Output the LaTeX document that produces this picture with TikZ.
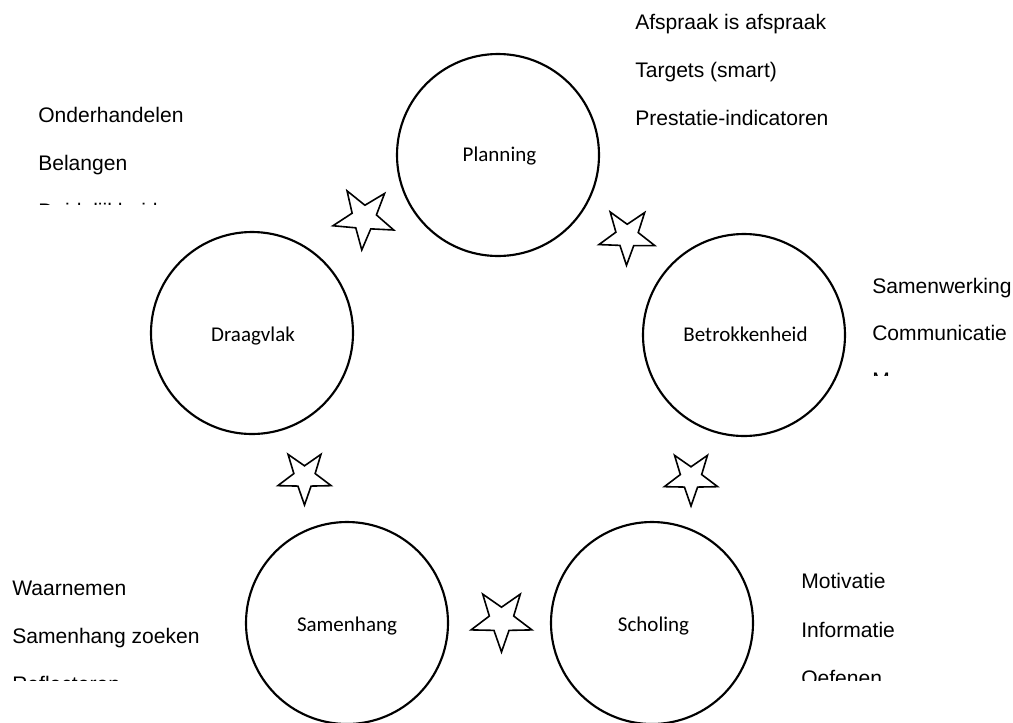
\documentclass[tikz,border=0pt]{standalone}
\usepackage{fontspec}
\setmainfont{Liberation Sans}
\newfontfamily\carlito{Carlito}
\usetikzlibrary{shapes.geometric}
\begin{document}
\begin{tikzpicture}[x=0.75pt,y=-0.75pt,
  circ/.style={draw, circle, line width=1.6pt, minimum size=151.5pt, inner sep=0pt},
  lab/.style={anchor=base, inner sep=0pt, font=\carlito\fontsize{15.75}{18}\selectfont},
  side/.style={anchor=base west, inner sep=0pt, font=\fontsize{15.8}{19}\selectfont},
  starnode/.style={draw, star, star points=5, star point ratio=2.5, inner sep=0pt, outer sep=0pt, line width=1.2pt, line join=miter},
]
\useasboundingbox (0,0) rectangle (1013,722);

% circles
\node[circ] (planning) at (498,155) {};
\node[circ] (draagvlak) at (252,333) {};
\node[circ] (betrokkenheid) at (744,335) {};
\node[circ] (samenhang) at (347,623) {};
\node[circ] (scholing) at (652,623) {};

% circle labels
\node[lab] (lplanning) at (499.5,161) {Planning};
\node[lab] (ldraagvlak) at (253,341) {Draagvlak};
\node[lab] (lbetrokkenheid) at (745.5,341) {Betrokkenheid};
\node[lab] (lsamenhang) at (347,631) {Samenhang};
\node[lab] (lscholing) at (653.5,631) {Scholing};

% stars
\node[starnode, minimum size=48pt, shape border rotate=176] (s1) at (364,218) {};
\node[starnode, minimum size=44pt, shape border rotate=179] (s2) at (627,236) {};
\node[starnode, minimum size=48pt, shape border rotate=180] (s3) at (501.5,620) {};
\node[starnode, minimum size=42pt, shape border rotate=180] (s4) at (304.5,477) {};
\node[starnode, minimum size=42pt, shape border rotate=180] (s5) at (691,478) {};

% Planning text block
\node[side] (p1) at (635,29.5) {Afspraak is afspraak};
\node[side] (p2) at (635,77.5) {Targets (smart)};
\node[side] (p3) at (635,125.5) {Prestatie-indicatoren};

% Draagvlak text block
\begin{scope}
\clip (20,90) rectangle (260,204);
\node[side] (d1) at (38,122) {Onderhandelen};
\node[side] (d2) at (38,170) {Belangen};
\node[side] (d3) at (38,218) {Duidelijkheid};
\end{scope}

% Betrokkenheid text block
\begin{scope}
\clip (860,265) rectangle (1013,375.5);
\node[side] (b1) at (872,293) {Samenwerking};
\node[side] (b2) at (872,340) {Communicatie};
\node[side] (b3) at (872,387.5) {M};
\end{scope}

% Samenhang text block
\begin{scope}
\clip (0,560) rectangle (240,680.5);
\node[side] (h1) at (12,595.5) {Waarnemen};
\node[side] (h2) at (12,643.5) {Samenhang zoeken};
\node[side] (h3) at (12,691.5) {Reflecteren};
\end{scope}

% Scholing text block
\begin{scope}
\clip (790,560) rectangle (1000,680);
\node[side] (c1) at (801,588.5) {Motivatie};
\node[side] (c2) at (801,637) {Informatie};
\node[side] (c3) at (801,685.5) {Oefenen};
\end{scope}
\end{tikzpicture}
\end{document}
